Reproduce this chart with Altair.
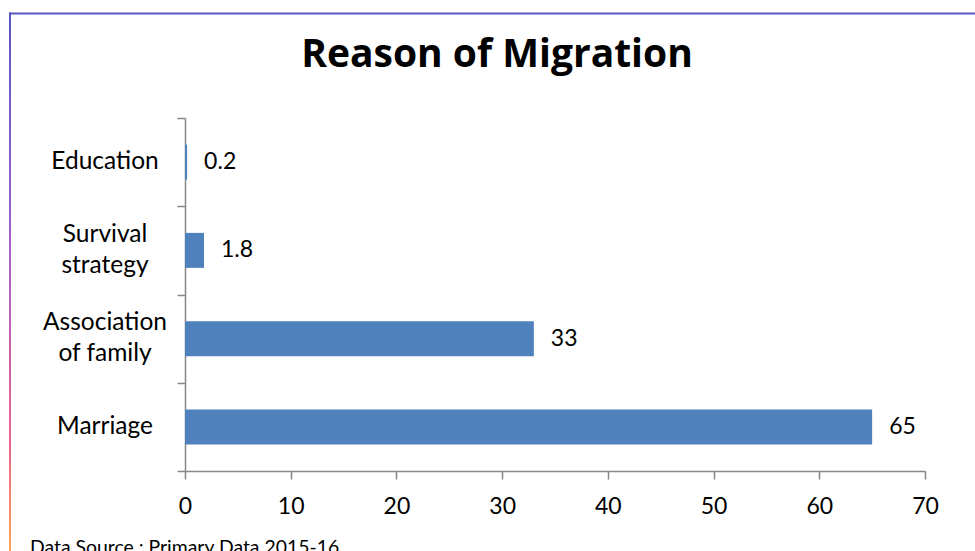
import altair as alt
import pandas as pd

# Reasons for migration, top to bottom; "|" marks a line break in the label
reasons = ["Education", "Survival|strategy", "Association|of family", "Marriage"]
shares = [0.2, 1.8, 33, 65]
x_ticks = [0, 10, 20, 30, 40, 50, 60, 70]
chart_title = "Reason of Migration"
source_note = "Data Source : Primary Data 2015-16"

FONT = "Lato"
TITLE_FONT = "Open Sans"
AXIS_GREY = "#868686"
BAR_BLUE = "#4F81BD"

W, H = 740, 353
PAD = {"left": 185, "top": 118, "right": 50, "bottom": 80}
LINE = 31          # spacing between the two lines of a wrapped label
LABEL_X = 105      # centre of the category labels, in page pixels

df = pd.DataFrame({"reason": reasons, "share": shares})
one = pd.DataFrame({"k": [0]})

x_enc = alt.X(
    "share:Q",
    scale=alt.Scale(domain=[0, 70], nice=False),
    axis=alt.Axis(
        title=None, values=x_ticks, grid=False, tickSize=8, labelPadding=16,
        labelFontSize=23, labelFont=FONT, labelColor="black", labelFlush=False,
        domainColor=AXIS_GREY, tickColor=AXIS_GREY, domainWidth=1.5, tickWidth=1.5,
    ),
)
y_sorted = alt.Y("reason:N", sort=reasons)
y_enc = alt.Y(
    "reason:N",
    sort=reasons,
    scale=alt.Scale(paddingInner=0, paddingOuter=0),
    axis=alt.Axis(
        title=None, labels=False, tickBand="extent", tickSize=8,
        domainColor=AXIS_GREY, tickColor=AXIS_GREY, domainWidth=1.5, tickWidth=1.5,
        grid=False,
    ),
)

bars = alt.Chart(df).mark_bar(size=35, color=BAR_BLUE).encode(x=x_enc, y=y_enc)

values = alt.Chart(df).mark_text(
    align="left", baseline="middle", dx=17, fontSize=23, font=FONT, color="black"
).encode(x="share:Q", y=y_sorted, text=alt.Text("share:Q", format=".1~f"))

# Category labels: one-line labels sit on the band centre, wrapped ones are
# lifted half a line so the two-line block is centred on the band.
cat_base = alt.Chart(df).transform_calculate(lines="split(datum.reason, '|')")
single_labels = cat_base.transform_filter("indexof(datum.reason, '|') < 0").mark_text(
    align="center", baseline="middle", fontSize=24.5, font=FONT, color="black"
).encode(x=alt.value(LABEL_X - PAD["left"]), y=y_sorted, text="lines:N")
wrapped_labels = cat_base.transform_filter("indexof(datum.reason, '|') >= 0").mark_text(
    align="center", baseline="middle", fontSize=24.5, font=FONT, color="black",
    lineHeight=LINE, dy=-LINE / 2,
).encode(x=alt.value(LABEL_X - PAD["left"]), y=y_sorted, text="lines:N")

title = alt.Chart(one).mark_text(
    align="center", baseline="alphabetic", fontSize=39, fontWeight="bold", font=TITLE_FONT,
    color="black", text=chart_title,
).encode(x=alt.value(497 - PAD["left"]), y=alt.value(67 - PAD["top"]))

note = alt.Chart(one).mark_text(
    align="left", baseline="alphabetic", fontSize=19.4, font=FONT, color="black", text=source_note
).encode(x=alt.value(30 - PAD["left"]), y=alt.value(554 - PAD["top"]))

# Frame: blue-violet top edge and a gradient left edge
top_edge = alt.Chart(one).mark_rule(color="#5b57c2", strokeWidth=2).encode(
    x=alt.value(9 - PAD["left"]), x2=alt.value(990 - PAD["left"]), y=alt.value(13.5 - PAD["top"])
)
left_edge = alt.Chart(one).mark_rect(
    color=alt.LinearGradient(
        gradient="linear", x1=0, x2=0, y1=0, y2=1,
        stops=[
            alt.GradientStop(color="#5b57c2", offset=0),
            alt.GradientStop(color="#a763c8", offset=0.45),
            alt.GradientStop(color="#ec6290", offset=0.8),
            alt.GradientStop(color="#ffa552", offset=1),
        ],
    )
).encode(
    x=alt.value(9 - PAD["left"]), x2=alt.value(11 - PAD["left"]),
    y=alt.value(12.5 - PAD["top"]), y2=alt.value(551 - PAD["top"]),
)

chart = (
    alt.layer(top_edge, left_edge, bars, values, single_labels, wrapped_labels, title, note)
    .properties(
        width=W,
        height=H,
        autosize=alt.AutoSizeParams(type="none"),
        padding=PAD,
        background="white",
    )
    .configure_view(stroke=None)
)

chart.save("out.html", embed_options={"renderer": "svg", "actions": False})
